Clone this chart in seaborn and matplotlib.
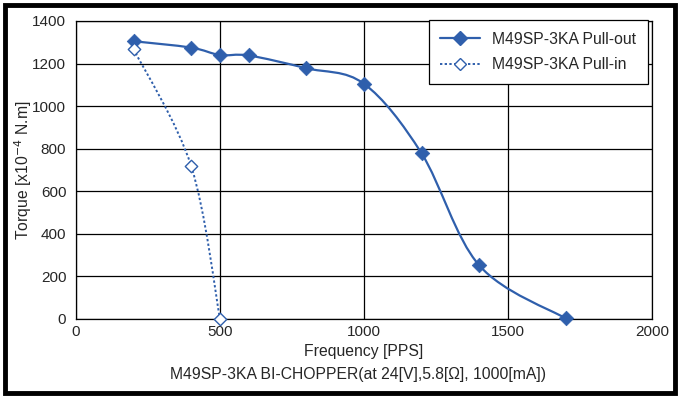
import matplotlib
matplotlib.use("Agg")
import matplotlib.pyplot as plt
import seaborn as sns
import pandas as pd
from matplotlib.path import Path
from matplotlib.patches import PathPatch, Rectangle
from matplotlib.lines import Line2D

# data
pull_out_freq = [200, 400, 500, 600, 800, 1000, 1200, 1400, 1700]
pull_out_torque = [1305, 1275, 1240, 1238, 1178, 1105, 778, 252, 3]
pull_in_freq = [200, 400, 500]
pull_in_torque = [1268, 718, 0]

x_ticks = [0, 500, 1000, 1500, 2000]
y_ticks = [0, 200, 400, 600, 800, 1000, 1200, 1400]

BLUE = '#2F5FAC'


def smooth_path(xs, ys):
    """Excel-like smoothed line: Catmull-Rom segments turned into cubic Beziers"""
    pts = list(zip(xs, ys))
    verts = [pts[0]]
    codes = [Path.MOVETO]
    n = len(pts)
    for i in range(n - 1):
        p0 = pts[i - 1] if i > 0 else pts[i]
        p1 = pts[i]
        p2 = pts[i + 1]
        p3 = pts[i + 2] if i + 2 < n else pts[i + 1]
        c1 = (p1[0] + (p2[0] - p0[0]) / 6, p1[1] + (p2[1] - p0[1]) / 6)
        c2 = (p2[0] - (p3[0] - p1[0]) / 6, p2[1] - (p3[1] - p1[1]) / 6)
        verts += [c1, c2, p2]
        codes += [Path.CURVE4] * 3
    return Path(verts, codes)


sns.set_style("white")
plt.rcParams['font.family'] = ['Liberation Sans', 'DejaVu Sans']

fig = plt.figure(figsize=(6.83, 3.97), dpi=100)
ax = fig.add_axes([76 / 683, 1 - 319 / 397, 576 / 683, 298 / 397])

out_df = pd.DataFrame({'freq': pull_out_freq, 'torque': pull_out_torque})
in_df = pd.DataFrame({'freq': pull_in_freq, 'torque': pull_in_torque})

ax.add_patch(PathPatch(smooth_path(pull_out_freq, pull_out_torque), fill=False,
                       edgecolor=BLUE, lw=1.6, zorder=3))
ax.add_patch(PathPatch(smooth_path(pull_in_freq, pull_in_torque), fill=False,
                       edgecolor=BLUE, lw=1.4, linestyle=(0, (1.2, 1.2)), zorder=3))

sns.scatterplot(data=out_df, x='freq', y='torque', marker='D', s=55, color=BLUE,
                edgecolor=BLUE, linewidth=0.5, ax=ax, zorder=4, clip_on=False)
sns.scatterplot(data=in_df, x='freq', y='torque', marker='D', s=40, color='white',
                edgecolor=BLUE, linewidth=1.0, ax=ax, zorder=4, clip_on=False)

ax.set_xlim(0, 2000)
ax.set_ylim(0, 1400)
ax.set_xticks(x_ticks)
ax.set_yticks(y_ticks)
ax.grid(True, color='black', lw=0.9)
ax.set_axisbelow(True)
for s in ax.spines.values():
    s.set_color('black')
    s.set_linewidth(0.9)
ax.tick_params(axis='both', labelsize=11, length=0, pad=4)
ax.tick_params(axis='y', pad=7)

ax.set_xlabel("Frequency [PPS]", fontsize=11.3, labelpad=4)
ax.set_ylabel("Torque [x10$^{-4}$ N.m]", fontsize=11.3, labelpad=-1)
fig.text(358 / 683, 1 - 375 / 397, "M49SP-3KA BI-CHOPPER(at 24[V],5.8[Ω], 1000[mA])",
         ha='center', va='center', fontsize=11.3)

handles = [
    Line2D([], [], color=BLUE, lw=1.6, marker='D', markersize=7),
    Line2D([], [], color=BLUE, lw=1.4, linestyle=(0, (1.2, 1.2)), marker='D',
           markersize=6, markerfacecolor='white', markeredgecolor=BLUE),
]
leg = ax.legend(handles, ["M49SP-3KA Pull-out", "M49SP-3KA Pull-in"],
                loc='upper right', bbox_to_anchor=((648 - 76) / 576, 1.003),
                borderaxespad=0, fontsize=11.3, handlelength=2.55, handletextpad=0.75,
                frameon=True, fancybox=False, framealpha=1, edgecolor='black',
                borderpad=0.75, labelspacing=0.65)
leg.get_frame().set_linewidth(0.9)
leg.set_zorder(5)

fig.patches.append(Rectangle((5 / 683, 4 / 397), 670 / 683, 388 / 397,
                             transform=fig.transFigure, fill=False,
                             edgecolor='black', lw=3.5))

plt.savefig("out.png", dpi=100)
